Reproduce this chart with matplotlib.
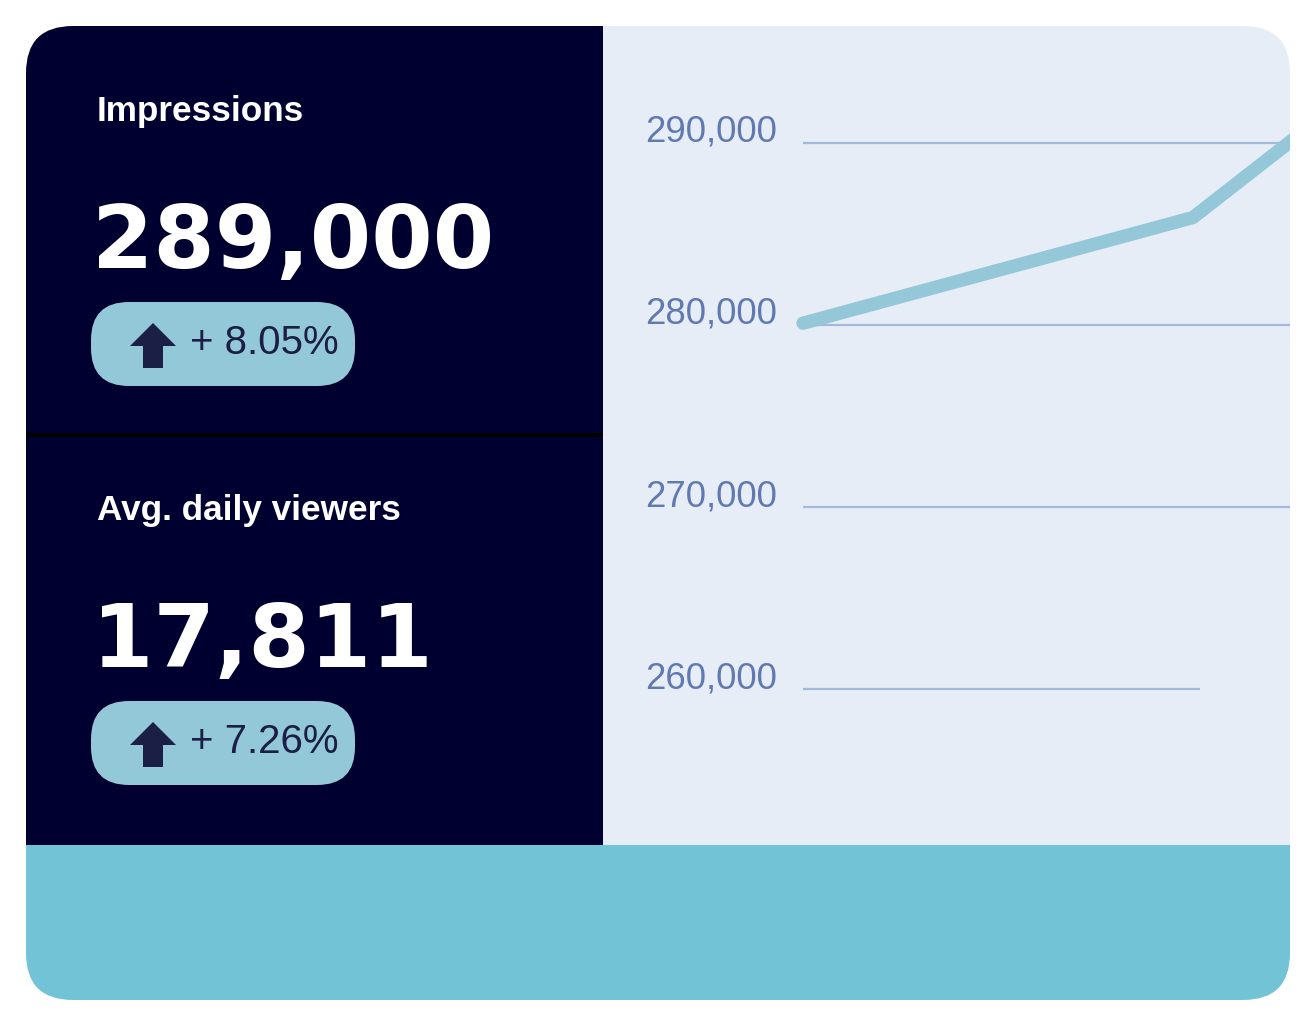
import matplotlib
matplotlib.use("Agg")
import matplotlib.pyplot as plt
from matplotlib.patches import FancyBboxPatch, Rectangle, Polygon
from matplotlib.transforms import blended_transform_factory

# data
periods = [0, 1, 2]
impressions = [280100, 285900, 302600]
grid_values = [290000, 280000, 270000, 260000]
grid_labels = ["290,000", "280,000", "270,000", "260,000"]

kpi_titles = ["Impressions", "Avg. daily viewers"]
kpi_values = ["289,000", "17,811"]
kpi_changes = ["+ 8.05%", "+ 7.26%"]

# colours
NAVY = "#000030"
LIGHT = "#e7edf7"
TEAL = "#72c3d5"
PILL = "#93c8d8"
LINE = "#94c8d8"
GRID = "#a5b9dc"
LABEL = "#6079b0"
INK = "#1b1e45"

W, H = 1316, 1026
fig = plt.figure(figsize=(W / 100, H / 100), dpi=100)

# background axes in pixel coords
bg = fig.add_axes([0, 0, 1, 1])
bg.set_xlim(0, W)
bg.set_ylim(H, 0)
bg.axis("off")

card = FancyBboxPatch((26, 26), 1264, 974, boxstyle="round,pad=0,rounding_size=47",
                      facecolor="none", edgecolor="none")
bg.add_patch(card)

for x0, y0, w, h, c in [(26, 26, 577, 819, NAVY),
                        (603, 26, 687, 819, LIGHT),
                        (26, 845, 1264, 155, TEAL)]:
    r = Rectangle((x0, y0), w, h, facecolor=c, edgecolor="none")
    bg.add_patch(r)
    r.set_clip_path(card)

bg.plot([26, 603], [435, 435], color="black", lw=3, solid_capstyle="butt")

# KPI blocks
for i, (title, value, change) in enumerate(zip(kpi_titles, kpi_values, kpi_changes)):
    dy = 399 * i
    bg.text(97, 121 + dy, title, color="white", fontsize=25.3, fontweight="bold",
            family="Liberation Sans", va="baseline", ha="left")
    bg.text(92, 268 + dy, value, color="white", fontsize=63.5, fontweight="bold",
            family="DejaVu Sans", va="baseline", ha="left")
    pill = FancyBboxPatch((91, 302 + dy), 264, 84, boxstyle="round,pad=0,rounding_size=38",
                          facecolor=PILL, edgecolor="none")
    bg.add_patch(pill)
    arrow = Polygon([(153, 323 + dy), (176, 346 + dy), (163, 346 + dy), (163, 368 + dy),
                     (143, 368 + dy), (143, 346 + dy), (130, 346 + dy)],
                    closed=True, facecolor=INK, edgecolor="none")
    bg.add_patch(arrow)
    bg.text(190, 354 + dy, change, color=INK, fontsize=29, family="Liberation Sans",
            va="baseline", ha="left")

# line chart
px_unit = 390.0
ax_left_px, ax_right_px = 790, 1290
ax_top_px, ax_bot_px = 26, 845
ax = fig.add_axes([ax_left_px / W, (H - ax_bot_px) / H,
                   (ax_right_px - ax_left_px) / W, (ax_bot_px - ax_top_px) / H])
ax.set_facecolor("none")
ax.axis("off")
px_per_val = 182.2 / 10000
ax.set_xlim((ax_left_px - 803) / px_unit, (ax_right_px - 803) / px_unit)
ax.set_ylim(280000 - (ax_bot_px - 325) / px_per_val, 280000 + (325 - ax_top_px) / px_per_val)

grid_ends = [2, 2, 2, (1200 - 803) / px_unit]
trans = blended_transform_factory(ax.transData, ax.transData)
for v, lab, xe in zip(grid_values, grid_labels, grid_ends):
    ax.hlines(v, 0, xe, color=GRID, lw=1.6, zorder=1)
    ax.text(-26 / px_unit, v + 60, lab, color=LABEL, fontsize=26.3, family="Liberation Sans",
            ha="right", va="baseline", transform=trans, clip_on=False)

ax.plot(periods, impressions, color=LINE, lw=9.6, solid_capstyle="round", zorder=2)

fig.savefig("out.png", dpi=100)
